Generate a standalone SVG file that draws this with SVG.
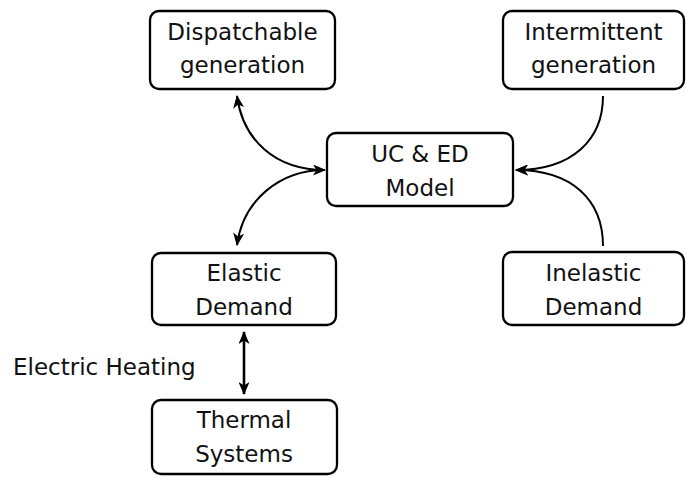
<svg xmlns="http://www.w3.org/2000/svg" width="686" height="477" viewBox="0 0 686 477">
<style>
.box{fill:#fff;stroke:#000;stroke-width:2.3}
.t{font-family:"DejaVu Sans","Liberation Sans",sans-serif;font-size:23px;fill:#111;text-anchor:middle}
.c{fill:none;stroke:#000;stroke-width:2}
.v{fill:none;stroke:#000;stroke-width:2.6}
</style>
<defs>
<marker id="ah" viewBox="0 0 13 11" refX="12" refY="5.5" markerWidth="13" markerHeight="11" markerUnits="userSpaceOnUse" orient="auto-start-reverse">
<path d="M0,0 L13,5.5 L0,11 L3.5,5.5 z" fill="#000"/>
</marker>
</defs>
<rect width="686" height="477" fill="#fff"/>
<g id="dispatchable">
<rect class="box" x="150" y="11" width="185" height="78" rx="9"/>
<text class="t" x="242.5" y="40">Dispatchable</text>
<text class="t" x="242.5" y="73">generation</text>
</g>
<g id="intermittent">
<rect class="box" x="503" y="11" width="181" height="78" rx="9"/>
<text class="t" x="593.5" y="40">Intermittent</text>
<text class="t" x="593.5" y="73">generation</text>
</g>
<g id="ucmodel">
<rect class="box" x="327" y="133" width="186" height="73" rx="9"/>
<text class="t" x="420" y="162">UC &amp; ED</text>
<text class="t" x="420" y="196">Model</text>
</g>
<g id="elastic">
<rect class="box" x="152" y="253" width="184" height="72" rx="9"/>
<text class="t" x="244" y="281">Elastic</text>
<text class="t" x="244" y="315">Demand</text>
</g>
<g id="inelastic">
<rect class="box" x="503" y="252" width="181" height="73" rx="9"/>
<text class="t" x="593.5" y="281">Inelastic</text>
<text class="t" x="593.5" y="315">Demand</text>
</g>
<g id="thermal">
<rect class="box" x="152" y="400" width="185" height="74" rx="9"/>
<text class="t" x="244" y="428">Thermal</text>
<text class="t" x="244" y="462">Systems</text>
</g>
<g id="connectors">
<path class="c" d="M237,96 C243,140 275,170 325,170" marker-start="url(#ah)" marker-end="url(#ah)"/>
<path class="c" d="M325,170 C280,170 243,200 237,245" marker-end="url(#ah)"/>
<path class="c" d="M603,96 C603,140 572,170 516,170" marker-end="url(#ah)"/>
<path class="c" d="M603,246 C603,200 572,170 516,170" marker-end="url(#ah)"/>
<path class="v" d="M244,332 L244,394" marker-start="url(#ah)" marker-end="url(#ah)"/>
<text class="t" x="13" y="375" style="text-anchor:start">Electric Heating</text>
</g>
</svg>
